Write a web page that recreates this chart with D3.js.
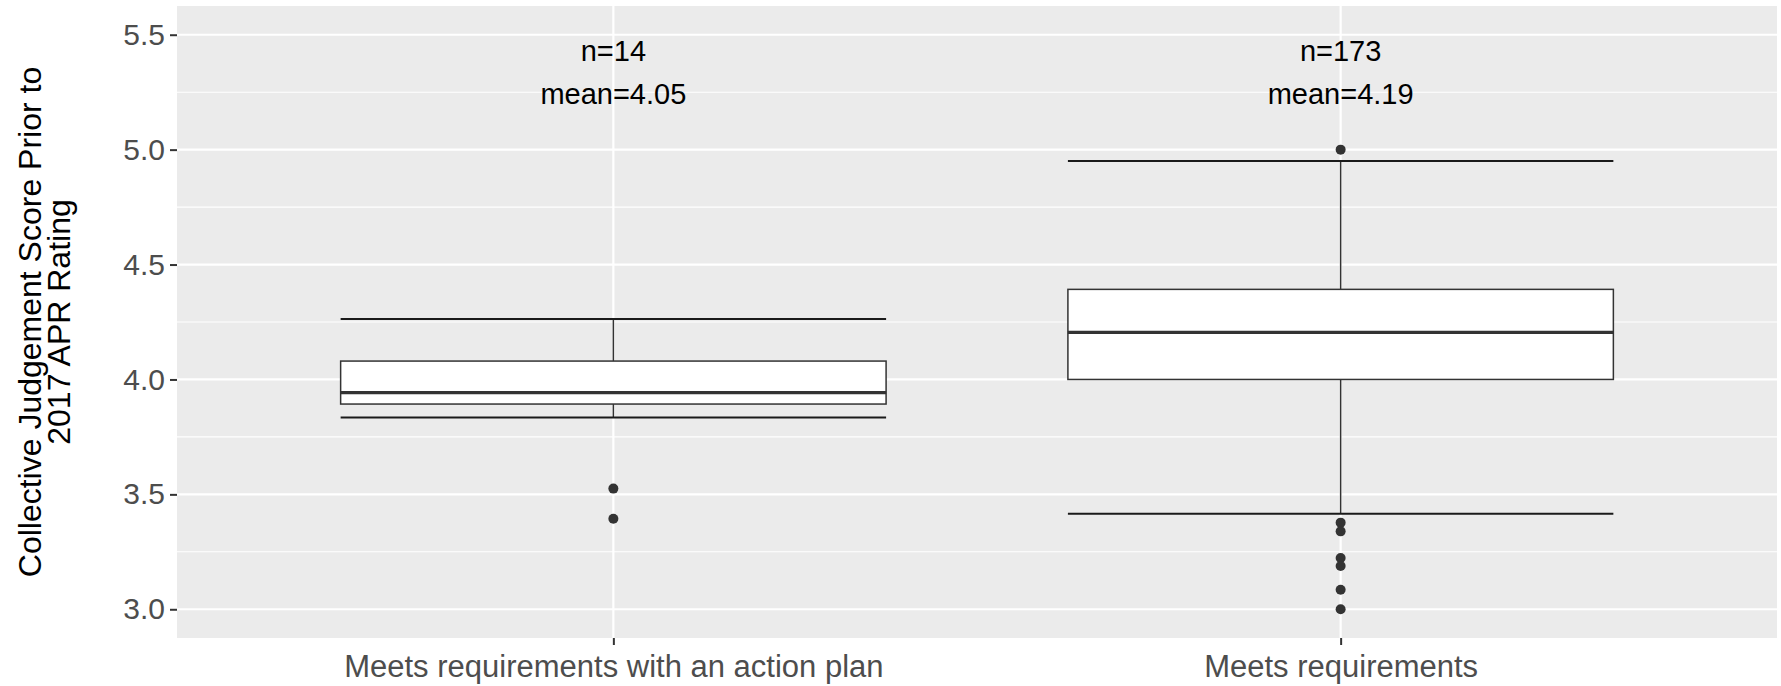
<!DOCTYPE html>
<html>
<head>
<meta charset="utf-8">
<script src="https://cdn.jsdelivr.net/npm/d3@7"></script>
<style>
  html, body { margin: 0; padding: 0; background: #ffffff; }
  svg { display: block; font-family: "Liberation Sans", Arial, sans-serif; }
</style>
</head>
<body>
<svg id="chart" width="1781" height="686"></svg>
<script>
// ---- data ----
const categories = ["Meets requirements with an action plan", "Meets requirements"];
const whiskerLow  = [3.834, 3.416];
const q1          = [3.893, 4.000];
const median      = [3.943, 4.205];
const q3          = [4.080, 4.392];
const whiskerHigh = [4.263, 4.951];
const outliersA   = [3.525, 3.394];
const outliersB   = [5.000, 3.377, 3.339, 3.223, 3.188, 3.085, 3.000];
const counts      = [14, 173];
const means       = ["4.05", "4.19"];
const yTicks      = [3.0, 3.5, 4.0, 4.5, 5.0, 5.5];
const yMinor      = [3.25, 3.75, 4.25, 4.75, 5.25];
const yTitle      = ["Collective Judgement Score Prior to", "2017 APR Rating"];

const outliers = [outliersA, outliersB];

// ---- layout ----
const W = 1781, H = 686;
const panel = { left: 177, right: 1777, top: 6, bottom: 638 };

const svg = d3.select("#chart");
svg.append("rect").attr("width", W).attr("height", H).attr("fill", "#ffffff");

const x = d3.scalePoint().domain(categories).range([panel.left, panel.right]).padding(0.6);
const y = d3.scaleLinear().domain([2.875, 5.625]).range([panel.bottom, panel.top]);
const boxW = x.step() * 0.75;

// panel background
svg.append("rect")
  .attr("x", panel.left).attr("y", panel.top)
  .attr("width", panel.right - panel.left).attr("height", panel.bottom - panel.top)
  .attr("fill", "#EBEBEB");

// grid
const grid = svg.append("g");
grid.selectAll("line.minor").data(yMinor).join("line")
  .attr("x1", panel.left).attr("x2", panel.right)
  .attr("y1", d => y(d)).attr("y2", d => y(d))
  .attr("stroke", "#ffffff").attr("stroke-width", 1.1);
grid.selectAll("line.major").data(yTicks).join("line")
  .attr("x1", panel.left).attr("x2", panel.right)
  .attr("y1", d => y(d)).attr("y2", d => y(d))
  .attr("stroke", "#ffffff").attr("stroke-width", 2.2);
grid.selectAll("line.vmajor").data(categories).join("line")
  .attr("x1", d => x(d)).attr("x2", d => x(d))
  .attr("y1", panel.top).attr("y2", panel.bottom)
  .attr("stroke", "#ffffff").attr("stroke-width", 2.2);

// boxplots
const rows = categories.map((c, i) => ({
  c, lo: whiskerLow[i], q1: q1[i], med: median[i], q3: q3[i], hi: whiskerHigh[i],
  out: outliers[i], n: counts[i], mean: means[i]
}));

const g = svg.append("g");
const bx = g.selectAll("g.box").data(rows).join("g");

// errorbar style whiskers (vertical + caps)
bx.append("line")
  .attr("x1", d => x(d.c)).attr("x2", d => x(d.c))
  .attr("y1", d => y(d.hi)).attr("y2", d => y(d.lo))
  .attr("stroke", "#333333").attr("stroke-width", 1.5);
bx.append("line")
  .attr("x1", d => x(d.c) - boxW / 2).attr("x2", d => x(d.c) + boxW / 2)
  .attr("y1", d => y(d.hi)).attr("y2", d => y(d.hi))
  .attr("stroke", "#1a1a1a").attr("stroke-width", 2);
bx.append("line")
  .attr("x1", d => x(d.c) - boxW / 2).attr("x2", d => x(d.c) + boxW / 2)
  .attr("y1", d => y(d.lo)).attr("y2", d => y(d.lo))
  .attr("stroke", "#1a1a1a").attr("stroke-width", 2);

// box
bx.append("rect")
  .attr("x", d => x(d.c) - boxW / 2).attr("width", boxW)
  .attr("y", d => y(d.q3)).attr("height", d => y(d.q1) - y(d.q3))
  .attr("fill", "#ffffff").attr("stroke", "#333333").attr("stroke-width", 1.5);
// median
bx.append("line")
  .attr("x1", d => x(d.c) - boxW / 2).attr("x2", d => x(d.c) + boxW / 2)
  .attr("y1", d => y(d.med)).attr("y2", d => y(d.med))
  .attr("stroke", "#333333").attr("stroke-width", 3.2);
// outliers
bx.selectAll("circle").data(d => d.out.map(v => ({ c: d.c, v }))).join("circle")
  .attr("cx", d => x(d.c)).attr("cy", d => y(d.v)).attr("r", 5)
  .attr("fill", "#333333");

// annotations
bx.append("text")
  .attr("x", d => x(d.c)).attr("y", y(5.43))
  .attr("text-anchor", "middle").attr("dominant-baseline", "central")
  .attr("font-size", 29).attr("fill", "#000000")
  .text(d => "n=" + d.n);
bx.append("text")
  .attr("x", d => x(d.c)).attr("y", y(5.243))
  .attr("text-anchor", "middle").attr("dominant-baseline", "central")
  .attr("font-size", 29).attr("fill", "#000000")
  .text(d => "mean=" + d.mean);

// axes
const yAxis = svg.append("g").attr("transform", `translate(${panel.left},0)`)
  .call(d3.axisLeft(y).tickValues(yTicks).tickFormat(d3.format(".1f")).tickSize(7).tickPadding(5));
const xAxis = svg.append("g").attr("transform", `translate(0,${panel.bottom})`)
  .call(d3.axisBottom(x).tickSize(7).tickPadding(10));
[yAxis, xAxis].forEach(a => {
  a.select(".domain").remove();
  a.selectAll(".tick line").attr("stroke", "#333333").attr("stroke-width", 2);
  a.selectAll(".tick text").attr("fill", "#4D4D4D")
    .attr("font-family", "'Liberation Sans', Arial, sans-serif");
});
yAxis.selectAll(".tick text").attr("font-size", 30);
xAxis.selectAll(".tick text").attr("font-size", 31);

// y title
const cy = (panel.top + panel.bottom) / 2;
svg.selectAll("text.ytitle").data(yTitle).join("text")
  .attr("class", "ytitle")
  .attr("transform", (d, i) => `translate(${41 + i * 29},${cy}) rotate(-90)`)
  .attr("text-anchor", "middle")
  .attr("font-size", 32).attr("fill", "#000000")
  .text(d => d);
</script>
</body>
</html>
